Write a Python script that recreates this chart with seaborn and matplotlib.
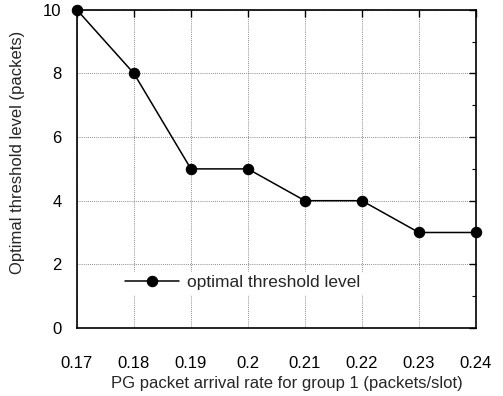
import matplotlib
matplotlib.use("Agg")
import matplotlib.pyplot as plt
from matplotlib.ticker import MultipleLocator
import seaborn as sns
import pandas as pd

arrival_rate = [0.17, 0.18, 0.19, 0.20, 0.21, 0.22, 0.23, 0.24]
threshold = [10, 8, 5, 5, 4, 4, 3, 3]
x_tick_labels = ["0.17", "0.18", "0.19", "0.2", "0.21", "0.22", "0.23", "0.24"]

sns.set_theme(style="white")
plt.rcParams["font.family"] = ["Liberation Sans", "DejaVu Sans"]

df = pd.DataFrame({"rate": arrival_rate, "threshold": threshold})

fig = plt.figure(figsize=(5.03, 3.96), dpi=100)
ax = fig.add_axes([0.153, 0.172, 0.793, 0.803])

sns.lineplot(data=df, x="rate", y="threshold", ax=ax, color="black",
             marker="o", markersize=7.5, markeredgecolor="black", linewidth=1.1,
             label="optimal threshold level", zorder=5, clip_on=False)

ax.set_xlim(0.17, 0.24)
ax.set_ylim(0, 10)
ax.set_xticks(arrival_rate)
ax.set_xticklabels(x_tick_labels)
ax.yaxis.set_major_locator(MultipleLocator(2))
ax.yaxis.set_minor_locator(MultipleLocator(1))

ax.grid(True, which="major", linestyle=(0, (1, 1.5)), color="#666666", linewidth=0.6)
ax.tick_params(axis="both", which="both", direction="in", top=True, right=True,
               labelsize=12, colors="black")
ax.tick_params(axis="both", which="major", length=5, width=1)
ax.tick_params(axis="both", which="minor", length=3, width=0.8)
ax.tick_params(axis="x", pad=20)
ax.tick_params(axis="y", pad=11)

for s in ax.spines.values():
    s.set_color("black")
    s.set_linewidth(1.2)

ax.set_xlabel("PG packet arrival rate for group 1 (packets/slot)", fontsize=12)
ax.set_ylabel("Optimal threshold level (packets)", fontsize=12)
ax.xaxis.set_label_coords(0.526, -0.15)
ax.yaxis.set_label_coords(-0.13, 0.553)

leg = ax.legend(loc="lower left", bbox_to_anchor=(0.09, 0.08), frameon=True,
                fontsize=12.5, handlelength=3.1, handletextpad=0.45, borderpad=0.2)
leg.get_frame().set_edgecolor("white")
leg.get_frame().set_facecolor("white")
leg.get_frame().set_alpha(1)

fig.savefig("out.png", dpi=100)
